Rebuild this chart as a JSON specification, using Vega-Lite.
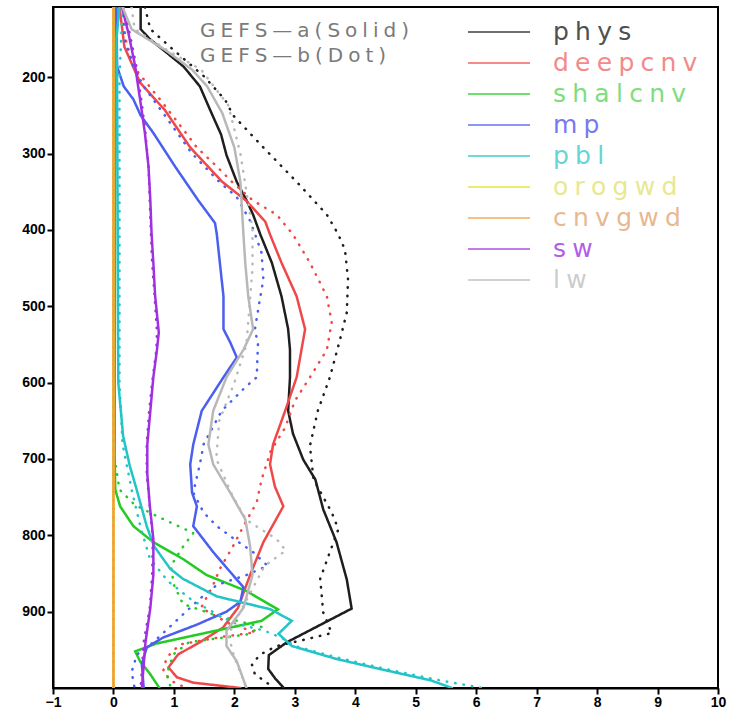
{
  "$schema": "https://vega.github.io/schema/vega-lite/v6.json",
  "autosize": "none",
  "width": 665,
  "height": 681,
  "padding": {"left": 53, "top": 7, "right": 13, "bottom": 22},
  "background": "white",
  "config": {
    "view": {"stroke": "#000", "strokeWidth": 2},
    "font": "DejaVu Sans"
  },
  "data": {"values": [
    {"v":"phys","r":"a","p":108,"x":0.45},{"v":"phys","r":"a","p":137,"x":0.45},{"v":"phys","r":"a","p":150,"x":0.6},{"v":"phys","r":"a","p":164,"x":0.82},{"v":"phys","r":"a","p":186,"x":1.16},{"v":"phys","r":"a","p":212,"x":1.43},{"v":"phys","r":"a","p":243,"x":1.6},{"v":"phys","r":"a","p":275,"x":1.78},{"v":"phys","r":"a","p":302,"x":1.87},{"v":"phys","r":"a","p":337,"x":2.04},{"v":"phys","r":"a","p":361,"x":2.2},{"v":"phys","r":"a","p":380,"x":2.31},{"v":"phys","r":"a","p":406,"x":2.43},{"v":"phys","r":"a","p":443,"x":2.62},{"v":"phys","r":"a","p":487,"x":2.78},{"v":"phys","r":"a","p":530,"x":2.89},{"v":"phys","r":"a","p":557,"x":2.92},{"v":"phys","r":"a","p":593,"x":2.92},{"v":"phys","r":"a","p":637,"x":2.89},{"v":"phys","r":"a","p":667,"x":2.97},{"v":"phys","r":"a","p":701,"x":3.14},{"v":"phys","r":"a","p":727,"x":3.34},{"v":"phys","r":"a","p":766,"x":3.47},{"v":"phys","r":"a","p":809,"x":3.69},{"v":"phys","r":"a","p":858,"x":3.86},{"v":"phys","r":"a","p":896,"x":3.94},{"v":"phys","r":"a","p":940,"x":2.87},{"v":"phys","r":"a","p":957,"x":2.57},{"v":"phys","r":"a","p":975,"x":2.56},{"v":"phys","r":"a","p":988,"x":2.68},{"v":"phys","r":"a","p":1000,"x":2.82},
    {"v":"phys","r":"b","p":108,"x":0.52},{"v":"phys","r":"b","p":137,"x":0.61},{"v":"phys","r":"b","p":164,"x":0.99},{"v":"phys","r":"b","p":199,"x":1.5},{"v":"phys","r":"b","p":230,"x":1.85},{"v":"phys","r":"b","p":250,"x":1.98},{"v":"phys","r":"b","p":292,"x":2.48},{"v":"phys","r":"b","p":337,"x":3.03},{"v":"phys","r":"b","p":380,"x":3.53},{"v":"phys","r":"b","p":406,"x":3.72},{"v":"phys","r":"b","p":426,"x":3.83},{"v":"phys","r":"b","p":465,"x":3.88},{"v":"phys","r":"b","p":508,"x":3.86},{"v":"phys","r":"b","p":543,"x":3.75},{"v":"phys","r":"b","p":593,"x":3.58},{"v":"phys","r":"b","p":637,"x":3.38},{"v":"phys","r":"b","p":683,"x":3.25},{"v":"phys","r":"b","p":727,"x":3.31},{"v":"phys","r":"b","p":770,"x":3.61},{"v":"phys","r":"b","p":792,"x":3.72},{"v":"phys","r":"b","p":822,"x":3.58},{"v":"phys","r":"b","p":857,"x":3.42},{"v":"phys","r":"b","p":901,"x":3.47},{"v":"phys","r":"b","p":928,"x":3.61},{"v":"phys","r":"b","p":935,"x":3.25},{"v":"phys","r":"b","p":945,"x":2.7},{"v":"phys","r":"b","p":956,"x":2.43},{"v":"phys","r":"b","p":969,"x":2.29},{"v":"phys","r":"b","p":982,"x":2.34},{"v":"phys","r":"b","p":996,"x":2.59},{"v":"phys","r":"b","p":1000,"x":2.65},
    {"v":"deepcnv","r":"a","p":108,"x":0.1},{"v":"deepcnv","r":"a","p":140,"x":0.15},{"v":"deepcnv","r":"a","p":160,"x":0.18},{"v":"deepcnv","r":"a","p":207,"x":0.44},{"v":"deepcnv","r":"a","p":243,"x":0.85},{"v":"deepcnv","r":"a","p":292,"x":1.27},{"v":"deepcnv","r":"a","p":337,"x":1.8},{"v":"deepcnv","r":"a","p":362,"x":2.2},{"v":"deepcnv","r":"a","p":389,"x":2.51},{"v":"deepcnv","r":"a","p":406,"x":2.59},{"v":"deepcnv","r":"a","p":443,"x":2.78},{"v":"deepcnv","r":"a","p":487,"x":3.03},{"v":"deepcnv","r":"a","p":530,"x":3.17},{"v":"deepcnv","r":"a","p":557,"x":3.11},{"v":"deepcnv","r":"a","p":593,"x":3.03},{"v":"deepcnv","r":"a","p":637,"x":2.84},{"v":"deepcnv","r":"a","p":681,"x":2.64},{"v":"deepcnv","r":"a","p":707,"x":2.59},{"v":"deepcnv","r":"a","p":736,"x":2.67},{"v":"deepcnv","r":"a","p":762,"x":2.81},{"v":"deepcnv","r":"a","p":809,"x":2.48},{"v":"deepcnv","r":"a","p":852,"x":2.26},{"v":"deepcnv","r":"a","p":895,"x":2.06},{"v":"deepcnv","r":"a","p":921,"x":1.81},{"v":"deepcnv","r":"a","p":940,"x":1.43},{"v":"deepcnv","r":"a","p":956,"x":1.07},{"v":"deepcnv","r":"a","p":973,"x":0.91},{"v":"deepcnv","r":"a","p":986,"x":1.05},{"v":"deepcnv","r":"a","p":993,"x":1.32},{"v":"deepcnv","r":"a","p":1000,"x":2.1},
    {"v":"deepcnv","r":"b","p":108,"x":0.15},{"v":"deepcnv","r":"b","p":150,"x":0.2},{"v":"deepcnv","r":"b","p":186,"x":0.33},{"v":"deepcnv","r":"b","p":229,"x":0.77},{"v":"deepcnv","r":"b","p":273,"x":1.2},{"v":"deepcnv","r":"b","p":292,"x":1.38},{"v":"deepcnv","r":"b","p":317,"x":1.71},{"v":"deepcnv","r":"b","p":337,"x":1.96},{"v":"deepcnv","r":"b","p":361,"x":2.3},{"v":"deepcnv","r":"b","p":380,"x":2.7},{"v":"deepcnv","r":"b","p":406,"x":2.97},{"v":"deepcnv","r":"b","p":443,"x":3.25},{"v":"deepcnv","r":"b","p":487,"x":3.53},{"v":"deepcnv","r":"b","p":521,"x":3.61},{"v":"deepcnv","r":"b","p":557,"x":3.53},{"v":"deepcnv","r":"b","p":593,"x":3.25},{"v":"deepcnv","r":"b","p":624,"x":3.0},{"v":"deepcnv","r":"b","p":659,"x":2.84},{"v":"deepcnv","r":"b","p":690,"x":2.6},{"v":"deepcnv","r":"b","p":727,"x":2.45},{"v":"deepcnv","r":"b","p":757,"x":2.37},{"v":"deepcnv","r":"b","p":788,"x":2.15},{"v":"deepcnv","r":"b","p":814,"x":1.98},{"v":"deepcnv","r":"b","p":844,"x":1.76},{"v":"deepcnv","r":"b","p":865,"x":1.65},{"v":"deepcnv","r":"b","p":895,"x":1.45},{"v":"deepcnv","r":"b","p":915,"x":1.9},{"v":"deepcnv","r":"b","p":927,"x":2.35},{"v":"deepcnv","r":"b","p":933,"x":1.8},{"v":"deepcnv","r":"b","p":943,"x":1.1},{"v":"deepcnv","r":"b","p":960,"x":0.88},{"v":"deepcnv","r":"b","p":979,"x":0.82},{"v":"deepcnv","r":"b","p":992,"x":0.99},{"v":"deepcnv","r":"b","p":1000,"x":1.2},
    {"v":"shalcnv","r":"a","p":108,"x":0.03},{"v":"shalcnv","r":"a","p":700,"x":0.02},{"v":"shalcnv","r":"a","p":740,"x":0.03},{"v":"shalcnv","r":"a","p":762,"x":0.11},{"v":"shalcnv","r":"a","p":788,"x":0.33},{"v":"shalcnv","r":"a","p":809,"x":0.66},{"v":"shalcnv","r":"a","p":831,"x":1.15},{"v":"shalcnv","r":"a","p":852,"x":1.54},{"v":"shalcnv","r":"a","p":873,"x":2.2},{"v":"shalcnv","r":"a","p":897,"x":2.72},{"v":"shalcnv","r":"a","p":912,"x":2.45},{"v":"shalcnv","r":"a","p":942,"x":0.7},{"v":"shalcnv","r":"a","p":952,"x":0.36},{"v":"shalcnv","r":"a","p":965,"x":0.44},{"v":"shalcnv","r":"a","p":982,"x":0.61},{"v":"shalcnv","r":"a","p":1000,"x":0.76},
    {"v":"shalcnv","r":"b","p":108,"x":0.02},{"v":"shalcnv","r":"b","p":700,"x":0.02},{"v":"shalcnv","r":"b","p":740,"x":0.1},{"v":"shalcnv","r":"b","p":760,"x":0.35},{"v":"shalcnv","r":"b","p":775,"x":0.72},{"v":"shalcnv","r":"b","p":797,"x":1.32},{"v":"shalcnv","r":"b","p":815,"x":1.15},{"v":"shalcnv","r":"b","p":840,"x":0.95},{"v":"shalcnv","r":"b","p":865,"x":1.0},{"v":"shalcnv","r":"b","p":890,"x":1.15},{"v":"shalcnv","r":"b","p":905,"x":1.7},{"v":"shalcnv","r":"b","p":920,"x":2.45},{"v":"shalcnv","r":"b","p":930,"x":2.2},{"v":"shalcnv","r":"b","p":940,"x":1.25},{"v":"shalcnv","r":"b","p":956,"x":0.99},{"v":"shalcnv","r":"b","p":982,"x":0.88},{"v":"shalcnv","r":"b","p":1000,"x":0.95},
    {"v":"mp","r":"a","p":108,"x":0.05},{"v":"mp","r":"a","p":186,"x":0.06},{"v":"mp","r":"a","p":212,"x":0.17},{"v":"mp","r":"a","p":229,"x":0.33},{"v":"mp","r":"a","p":250,"x":0.45},{"v":"mp","r":"a","p":273,"x":0.66},{"v":"mp","r":"a","p":317,"x":1.02},{"v":"mp","r":"a","p":361,"x":1.4},{"v":"mp","r":"a","p":391,"x":1.68},{"v":"mp","r":"a","p":406,"x":1.71},{"v":"mp","r":"a","p":443,"x":1.76},{"v":"mp","r":"a","p":487,"x":1.82},{"v":"mp","r":"a","p":530,"x":1.82},{"v":"mp","r":"a","p":547,"x":1.93},{"v":"mp","r":"a","p":567,"x":2.04},{"v":"mp","r":"a","p":593,"x":1.82},{"v":"mp","r":"a","p":637,"x":1.46},{"v":"mp","r":"a","p":681,"x":1.32},{"v":"mp","r":"a","p":707,"x":1.27},{"v":"mp","r":"a","p":744,"x":1.3},{"v":"mp","r":"a","p":762,"x":1.38},{"v":"mp","r":"a","p":788,"x":1.32},{"v":"mp","r":"a","p":822,"x":1.65},{"v":"mp","r":"a","p":858,"x":2.04},{"v":"mp","r":"a","p":868,"x":2.15},{"v":"mp","r":"a","p":887,"x":2.1},{"v":"mp","r":"a","p":900,"x":1.87},{"v":"mp","r":"a","p":917,"x":1.38},{"v":"mp","r":"a","p":934,"x":0.82},{"v":"mp","r":"a","p":947,"x":0.55},{"v":"mp","r":"a","p":969,"x":0.47},{"v":"mp","r":"a","p":1000,"x":0.5},
    {"v":"mp","r":"b","p":108,"x":0.15},{"v":"mp","r":"b","p":150,"x":0.18},{"v":"mp","r":"b","p":186,"x":0.33},{"v":"mp","r":"b","p":212,"x":0.5},{"v":"mp","r":"b","p":250,"x":0.85},{"v":"mp","r":"b","p":300,"x":1.3},{"v":"mp","r":"b","p":337,"x":1.75},{"v":"mp","r":"b","p":357,"x":2.04},{"v":"mp","r":"b","p":388,"x":2.26},{"v":"mp","r":"b","p":405,"x":2.34},{"v":"mp","r":"b","p":430,"x":2.45},{"v":"mp","r":"b","p":465,"x":2.48},{"v":"mp","r":"b","p":487,"x":2.43},{"v":"mp","r":"b","p":530,"x":2.34},{"v":"mp","r":"b","p":550,"x":2.39},{"v":"mp","r":"b","p":593,"x":2.37},{"v":"mp","r":"b","p":606,"x":2.18},{"v":"mp","r":"b","p":637,"x":1.79},{"v":"mp","r":"b","p":681,"x":1.49},{"v":"mp","r":"b","p":707,"x":1.43},{"v":"mp","r":"b","p":744,"x":1.32},{"v":"mp","r":"b","p":770,"x":1.49},{"v":"mp","r":"b","p":788,"x":1.71},{"v":"mp","r":"b","p":805,"x":2.0},{"v":"mp","r":"b","p":822,"x":2.31},{"v":"mp","r":"b","p":840,"x":2.55},{"v":"mp","r":"b","p":852,"x":2.2},{"v":"mp","r":"b","p":865,"x":1.71},{"v":"mp","r":"b","p":883,"x":1.43},{"v":"mp","r":"b","p":900,"x":1.2},{"v":"mp","r":"b","p":940,"x":0.66},{"v":"mp","r":"b","p":956,"x":0.39},{"v":"mp","r":"b","p":979,"x":0.3},{"v":"mp","r":"b","p":1000,"x":0.35},
    {"v":"pbl","r":"a","p":108,"x":0.1},{"v":"pbl","r":"a","p":150,"x":0.05},{"v":"pbl","r":"a","p":200,"x":0.06},{"v":"pbl","r":"a","p":600,"x":0.08},{"v":"pbl","r":"a","p":670,"x":0.16},{"v":"pbl","r":"a","p":709,"x":0.27},{"v":"pbl","r":"a","p":739,"x":0.38},{"v":"pbl","r":"a","p":788,"x":0.55},{"v":"pbl","r":"a","p":814,"x":0.67},{"v":"pbl","r":"a","p":844,"x":0.94},{"v":"pbl","r":"a","p":857,"x":1.15},{"v":"pbl","r":"a","p":880,"x":1.71},{"v":"pbl","r":"a","p":897,"x":2.6},{"v":"pbl","r":"a","p":912,"x":2.95},{"v":"pbl","r":"a","p":929,"x":2.73},{"v":"pbl","r":"a","p":945,"x":2.95},{"v":"pbl","r":"a","p":962,"x":3.69},{"v":"pbl","r":"a","p":975,"x":4.4},{"v":"pbl","r":"a","p":990,"x":5.25},{"v":"pbl","r":"a","p":1000,"x":5.6},
    {"v":"pbl","r":"b","p":108,"x":0.15},{"v":"pbl","r":"b","p":200,"x":0.1},{"v":"pbl","r":"b","p":600,"x":0.1},{"v":"pbl","r":"b","p":680,"x":0.15},{"v":"pbl","r":"b","p":740,"x":0.3},{"v":"pbl","r":"b","p":790,"x":0.45},{"v":"pbl","r":"b","p":830,"x":0.6},{"v":"pbl","r":"b","p":860,"x":0.9},{"v":"pbl","r":"b","p":885,"x":1.3},{"v":"pbl","r":"b","p":905,"x":1.75},{"v":"pbl","r":"b","p":915,"x":2.0},{"v":"pbl","r":"b","p":925,"x":2.5},{"v":"pbl","r":"b","p":935,"x":2.8},{"v":"pbl","r":"b","p":945,"x":3.0},{"v":"pbl","r":"b","p":960,"x":3.7},{"v":"pbl","r":"b","p":975,"x":4.5},{"v":"pbl","r":"b","p":990,"x":5.4},{"v":"pbl","r":"b","p":1000,"x":6.1},
    {"v":"orogwd","r":"a","p":108,"x":0},{"v":"orogwd","r":"a","p":1000,"x":0},
    {"v":"orogwd","r":"b","p":108,"x":0},{"v":"orogwd","r":"b","p":1000,"x":0},
    {"v":"cnvgwd","r":"a","p":108,"x":0},{"v":"cnvgwd","r":"a","p":1000,"x":0},
    {"v":"cnvgwd","r":"b","p":108,"x":0},{"v":"cnvgwd","r":"b","p":1000,"x":0},
    {"v":"sw","r":"a","p":108,"x":0.14},{"v":"sw","r":"a","p":143,"x":0.25},{"v":"sw","r":"a","p":186,"x":0.36},{"v":"sw","r":"a","p":229,"x":0.44},{"v":"sw","r":"a","p":273,"x":0.52},{"v":"sw","r":"a","p":317,"x":0.58},{"v":"sw","r":"a","p":361,"x":0.61},{"v":"sw","r":"a","p":404,"x":0.63},{"v":"sw","r":"a","p":443,"x":0.66},{"v":"sw","r":"a","p":487,"x":0.69},{"v":"sw","r":"a","p":534,"x":0.75},{"v":"sw","r":"a","p":557,"x":0.72},{"v":"sw","r":"a","p":593,"x":0.66},{"v":"sw","r":"a","p":637,"x":0.61},{"v":"sw","r":"a","p":681,"x":0.56},{"v":"sw","r":"a","p":720,"x":0.56},{"v":"sw","r":"a","p":760,"x":0.6},{"v":"sw","r":"a","p":805,"x":0.66},{"v":"sw","r":"a","p":852,"x":0.66},{"v":"sw","r":"a","p":895,"x":0.61},{"v":"sw","r":"a","p":940,"x":0.53},{"v":"sw","r":"a","p":1000,"x":0.47},
    {"v":"sw","r":"b","p":108,"x":0.17},{"v":"sw","r":"b","p":143,"x":0.27},{"v":"sw","r":"b","p":186,"x":0.38},{"v":"sw","r":"b","p":229,"x":0.46},{"v":"sw","r":"b","p":273,"x":0.53},{"v":"sw","r":"b","p":317,"x":0.58},{"v":"sw","r":"b","p":361,"x":0.6},{"v":"sw","r":"b","p":404,"x":0.62},{"v":"sw","r":"b","p":443,"x":0.64},{"v":"sw","r":"b","p":487,"x":0.68},{"v":"sw","r":"b","p":534,"x":0.72},{"v":"sw","r":"b","p":557,"x":0.71},{"v":"sw","r":"b","p":593,"x":0.65},{"v":"sw","r":"b","p":637,"x":0.59},{"v":"sw","r":"b","p":681,"x":0.55},{"v":"sw","r":"b","p":720,"x":0.55},{"v":"sw","r":"b","p":760,"x":0.6},{"v":"sw","r":"b","p":805,"x":0.65},{"v":"sw","r":"b","p":852,"x":0.64},{"v":"sw","r":"b","p":895,"x":0.6},{"v":"sw","r":"b","p":940,"x":0.5},{"v":"sw","r":"b","p":1000,"x":0.45},
    {"v":"lw","r":"a","p":108,"x":0.15},{"v":"lw","r":"a","p":137,"x":0.3},{"v":"lw","r":"a","p":164,"x":0.85},{"v":"lw","r":"a","p":190,"x":1.3},{"v":"lw","r":"a","p":212,"x":1.55},{"v":"lw","r":"a","p":247,"x":1.8},{"v":"lw","r":"a","p":292,"x":2.0},{"v":"lw","r":"a","p":337,"x":2.1},{"v":"lw","r":"a","p":406,"x":2.15},{"v":"lw","r":"a","p":443,"x":2.18},{"v":"lw","r":"a","p":487,"x":2.23},{"v":"lw","r":"a","p":530,"x":2.31},{"v":"lw","r":"a","p":557,"x":2.15},{"v":"lw","r":"a","p":593,"x":1.87},{"v":"lw","r":"a","p":637,"x":1.65},{"v":"lw","r":"a","p":681,"x":1.57},{"v":"lw","r":"a","p":707,"x":1.65},{"v":"lw","r":"a","p":744,"x":1.93},{"v":"lw","r":"a","p":779,"x":2.18},{"v":"lw","r":"a","p":814,"x":2.26},{"v":"lw","r":"a","p":852,"x":2.3},{"v":"lw","r":"a","p":895,"x":2.15},{"v":"lw","r":"a","p":925,"x":1.87},{"v":"lw","r":"a","p":945,"x":1.87},{"v":"lw","r":"a","p":965,"x":2.04},{"v":"lw","r":"a","p":1000,"x":2.2},
    {"v":"lw","r":"b","p":108,"x":0.3},{"v":"lw","r":"b","p":137,"x":0.35},{"v":"lw","r":"b","p":165,"x":0.9},{"v":"lw","r":"b","p":190,"x":1.45},{"v":"lw","r":"b","p":237,"x":1.9},{"v":"lw","r":"b","p":300,"x":2.1},{"v":"lw","r":"b","p":350,"x":2.2},{"v":"lw","r":"b","p":400,"x":2.3},{"v":"lw","r":"b","p":450,"x":2.3},{"v":"lw","r":"b","p":500,"x":2.25},{"v":"lw","r":"b","p":550,"x":2.2},{"v":"lw","r":"b","p":600,"x":2.0},{"v":"lw","r":"b","p":650,"x":1.75},{"v":"lw","r":"b","p":700,"x":1.7},{"v":"lw","r":"b","p":750,"x":1.98},{"v":"lw","r":"b","p":780,"x":2.2},{"v":"lw","r":"b","p":805,"x":2.7},{"v":"lw","r":"b","p":820,"x":2.85},{"v":"lw","r":"b","p":840,"x":2.5},{"v":"lw","r":"b","p":870,"x":2.3},{"v":"lw","r":"b","p":900,"x":2.1},{"v":"lw","r":"b","p":930,"x":1.9},{"v":"lw","r":"b","p":960,"x":2.0},{"v":"lw","r":"b","p":1000,"x":2.2}
  ]},
  "mark": {"type": "line", "strokeWidth": 2.5, "strokeCap": "round", "clip": true},
  "encoding": {
    "x": {
      "field": "x", "type": "quantitative",
      "scale": {"domain": [-1, 10], "nice": false, "zero": false},
      "axis": {"title": null, "values": [-1,0,1,2,3,4,5,6,7,8,9,10], "grid": false, "domainColor": "#000", "domainWidth": 2, "tickColor": "#000", "tickWidth": 2, "tickSize": 6, "labelFontSize": 14, "labelFontWeight": "bold", "labelColor": "#000", "labelFont": "Liberation Sans", "labelPadding": 1, "labelFlush": false}
    },
    "y": {
      "field": "p", "type": "quantitative",
      "scale": {"domain": [108, 1000], "reverse": true, "nice": false, "zero": false},
      "axis": {"title": null, "values": [200,300,400,500,600,700,800,900], "grid": false, "domainColor": "#000", "domainWidth": 2, "tickColor": "#000", "tickWidth": 2, "tickSize": 6, "labelFontSize": 14, "labelFontWeight": "bold", "labelColor": "#000", "labelFont": "Liberation Sans", "labelPadding": 2}
    },
    "order": {"field": "p", "type": "quantitative"},
    "color": {
      "field": "v", "type": "nominal",
      "scale": {
        "domain": ["phys","deepcnv","shalcnv","mp","pbl","orogwd","cnvgwd","sw","lw"],
        "range": ["#1e1e1e","#f04848","#22cc22","#4a5ef0","#22c4c8","#e0e020","#f0a040","#a030e0","#b8b8b8"]
      },
      "legend": {
        "title": null, "orient": "none", "legendX": 428, "legendY": 7, "padding": 0,
        "symbolType": "M-1.8,0H1.8", "symbolSize": 1190, "symbolStrokeWidth": 1.5, "symbolOpacity": 0.85,
        "labelFontSize": 25, "labelFont": "DejaVu Sans", "labelOffset": 36, "rowPadding": 0, "labelLimit": 300,
        "labelExpr": "join(split(datum.label, ''), '\u2005')",
        "labelColor": {"expr": "['#505050','#f28a8a','#7ede7e','#7878f0','#66d4d4','#e8e890','#e8b890','#b060e8','#cccccc'][indexof(['phys','deepcnv','shalcnv','mp','pbl','orogwd','cnvgwd','sw','lw'], datum.value)]"}
      }
    },
    "strokeDash": {
      "field": "r", "type": "nominal",
      "scale": {"domain": ["a","b"], "range": [[1,0],[0.5,8]]},
      "legend": {
        "title": null, "orient": "none", "legendX": 127, "legendY": 14, "padding": 0,
        "symbolOpacity": 0, "symbolSize": 0, "labelOffset": 0, "rowPadding": 5,
        "labelFontSize": 20, "labelFont": "DejaVu Sans", "labelColor": "#7a7a7a", "labelLimit": 400,
        "labelExpr": "join(split(datum.value == 'a' ? 'GEFS—a(Solid)' : 'GEFS—b(Dot)', ''), '\u2005')"
      }
    }
  }
}
